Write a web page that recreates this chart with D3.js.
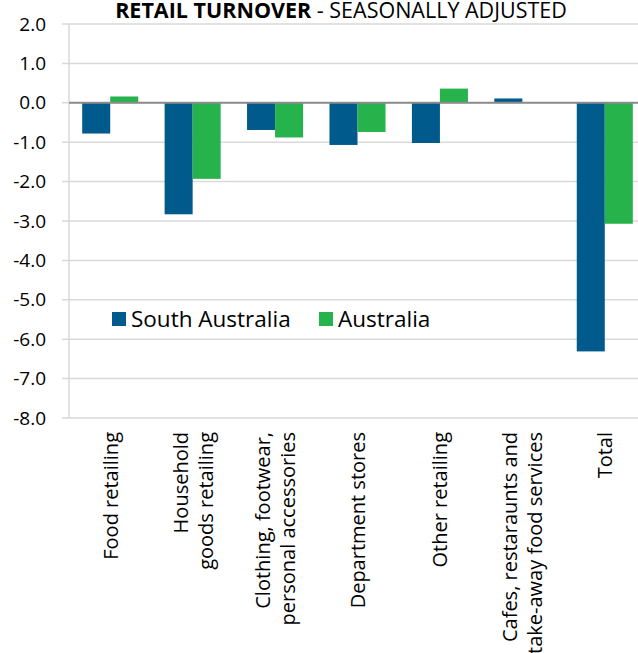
<!DOCTYPE html>
<html>
<head>
<meta charset="utf-8">
<script src="https://cdn.jsdelivr.net/npm/d3@7"></script>
<style>
  body { margin: 0; background: #fff; }
  svg { display: block; font-family: "Open Sans", sans-serif; }
</style>
</head>
<body>
<script>
const categories = [
  ["Food retailing"],
  ["Household", "goods retailing"],
  ["Clothing, footwear,", "personal accessories"],
  ["Department stores"],
  ["Other retailing"],
  ["Cafes, restaraunts and", "take-away food services"],
  ["Total"],
];
const seriesNames = ["South Australia", "Australia"];
const southAustralia = [-0.78, -2.83, -0.69, -1.07, -1.02, 0.11, -6.31];
const australia = [0.16, -1.93, -0.88, -0.74, 0.36, 0.0, -3.07];
const yTicks = [2, 1, 0, -1, -2, -3, -4, -5, -6, -7, -8];
const colors = ["#005a8b", "#27b34b"];

const width = 638, height = 653;
const margin = { left: 69, right: -8, top: 24, bottom: 235 };

const svg = d3.select("body").append("svg")
  .attr("width", width)
  .attr("height", height);

const x = d3.scaleBand()
  .domain(d3.range(categories.length))
  .range([margin.left, width - margin.right])
  .paddingInner(0.32)
  .paddingOuter(0.16);

const x1 = d3.scaleBand()
  .domain(d3.range(seriesNames.length))
  .range([0, x.bandwidth()]);

const y = d3.scaleLinear()
  .domain([-8, 2])
  .range([height - margin.bottom, margin.top]);

// gridlines
svg.append("g")
  .selectAll("line")
  .data(yTicks)
  .join("line")
  .attr("x1", margin.left - 7)
  .attr("x2", width)
  .attr("y1", (d) => y(d))
  .attr("y2", (d) => y(d))
  .attr("stroke", "#d9d9d9")
  .attr("stroke-width", 1.5);

// y axis line
svg.append("line")
  .attr("x1", margin.left).attr("x2", margin.left)
  .attr("y1", y(2)).attr("y2", y(-8))
  .attr("stroke", "#d9d9d9")
  .attr("stroke-width", 1.5);

// y tick labels
svg.append("g")
  .selectAll("text")
  .data(yTicks)
  .join("text")
  .attr("x", 46)
  .attr("y", (d) => y(d))
  .attr("dy", "0.35em")
  .attr("text-anchor", "end")
  .attr("font-size", 19)
  .attr("fill", "#000")
  .text((d) => d3.format(".1f")(d).replace("−", "-"));

// bars
const data = categories.map((c, i) => [southAustralia[i], australia[i]]);
svg.append("g")
  .selectAll("g")
  .data(data)
  .join("g")
  .attr("transform", (_, i) => `translate(${x(i)},0)`)
  .selectAll("rect")
  .data((d) => d.map((v, s) => ({ v, s })))
  .join("rect")
  .attr("x", (d) => x1(d.s))
  .attr("width", x1.bandwidth())
  .attr("y", (d) => y(Math.max(0, d.v)))
  .attr("height", (d) => Math.abs(y(d.v) - y(0)))
  .attr("fill", (d) => colors[d.s]);

// zero line
svg.append("line")
  .attr("x1", margin.left).attr("x2", width)
  .attr("y1", y(0)).attr("y2", y(0))
  .attr("stroke", "#8c8c8c")
  .attr("stroke-width", 2);

// category labels
const labels = svg.append("g")
  .selectAll("text")
  .data(categories)
  .join("text")
  .attr("transform", (_, i) => `translate(${x(i) + x.bandwidth() / 2},432) rotate(-90)`)
  .attr("text-anchor", "end")
  .attr("font-size", 20)
  .attr("fill", "#000");

labels.selectAll("tspan")
  .data((d) => d.map((t, j) => ({ t, j, n: d.length })))
  .join("tspan")
  .attr("x", 0)
  .attr("y", (d) => (d.n === 1 ? 7.5 : -5 + d.j * 25))
  .text((d) => d.t);

// legend
const legend = svg.append("g")
  .selectAll("g")
  .data(seriesNames)
  .join("g")
  .attr("transform", (_, i) => `translate(${[112, 319][i]},312)`);
legend.append("rect")
  .attr("width", 14)
  .attr("height", 14)
  .attr("fill", (_, i) => colors[i]);
legend.append("text")
  .attr("x", 19)
  .attr("y", 7)
  .attr("dy", "0.35em")
  .attr("font-size", 22.5)
  .attr("fill", "#000")
  .text((d) => d);

// title
const title = svg.append("text")
  .attr("x", 341)
  .attr("y", 18)
  .attr("text-anchor", "middle")
  .attr("font-size", 21.5)
  .attr("fill", "#000");
title.append("tspan").attr("font-weight", "bold").text("RETAIL TURNOVER");
title.append("tspan").text(" - SEASONALLY ADJUSTED");
</script>
</body>
</html>
